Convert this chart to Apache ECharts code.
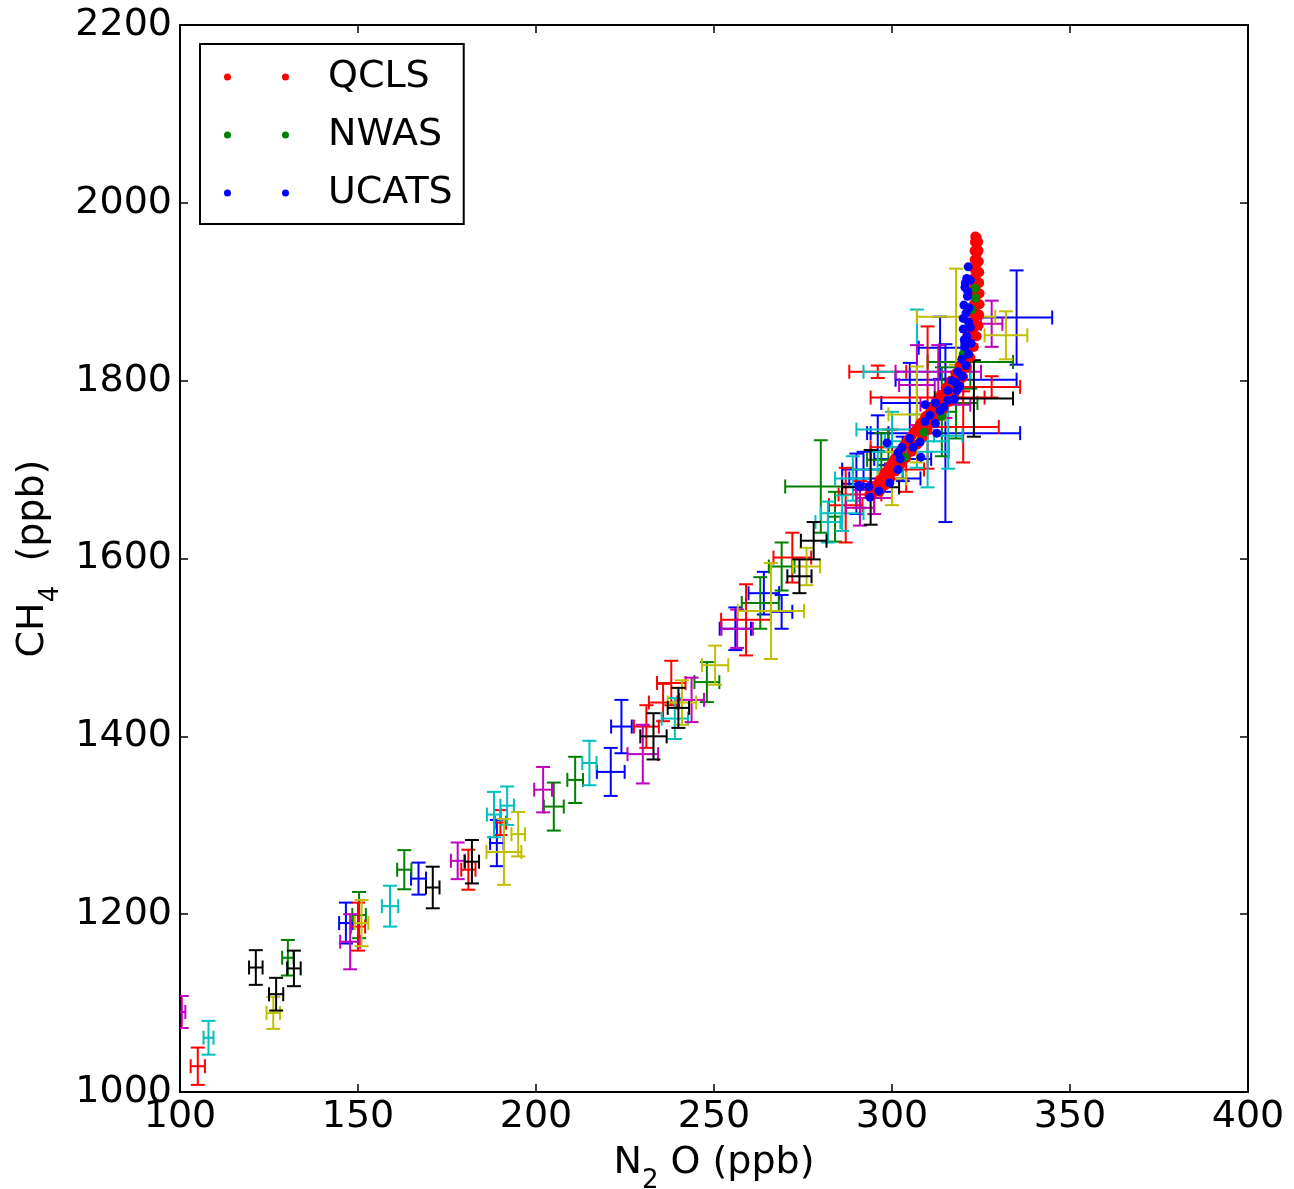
<!DOCTYPE html>
<html><head><meta charset="utf-8">
<script src="https://cdn.jsdelivr.net/npm/echarts@6/dist/echarts.min.js"></script>
<style>html,body{margin:0;padding:0;background:#fff}#c{width:1294px;height:1189px}</style>
</head><body><div id="c"></div>
<script>
// Axis ticks
const xTicks = [100, 150, 200, 250, 300, 350, 400];
const yTicks = [1000, 1200, 1400, 1600, 1800, 2000, 2200];

// Error-bar points: [N2O, CH4, N2O error, CH4 error], one list per colour
const errBlue = [[146.6,1190,1.9,23],[167,1240,2.1,18],[189,1280,1.9,26],[221,1360,3.9,27],[224,1411,2.9,30],
  [256,1521,4.4,24],[269,1540,3,19],[264,1561,4.3,24],[335,1871,10,53],[318,1801,17,20],[315,1741,21,100],
  [290,1684,4,34],[296,1741,3,20],[313.5,1837,6,35],[292,1700,6,20],[303,1712,8,25],[305,1775,8,45],[298,1690,10,15]];
const errGreen = [[130.3,1151,1.6,20],[150.3,1199,1.9,26],[163,1250,2,22],[205,1321,2.8,27],[211,1351,2.2,26],
  [248,1461,3.5,22.5],[263,1550,5.2,29],[269,1591,3.6,27],[284,1647,2,28],[280,1681,10,52],
  [322,1821,12,30],[314,1765,4,50],[297,1711,4,30],[299,1720,5,25],[318,1775,6,40]];
const errRed = [[105,1029,2,21],[150,1186,2,27],[181,1250,2,22.5],[190,1303,1.6,14],[231,1411,3.5,24],
  [235.7,1438,4,21],[238,1460,4,25],[259,1531,7,40],[272,1601,5.3,28],[287,1660,4.7,42],
  [296,1810,8,7],[310,1781,16,80],[320,1748,10,40],[328,1793,8,12],[291,1672,6,15],[304,1700,5,25],[300,1725,6,20]];
const errCyan = [[108,1061,1.4,19],[159,1209,2.3,23],[188.2,1312,2,25.5],[191.9,1322,1.9,21.6],[215,1370,2,25],
  [239,1420,3.7,23],[282,1641,3.5,23],[286,1651,6,20],[307,1810,15,70],[315.8,1738,4,37],[296,1700,7,20],[307,1732,9,30],
  [289,1690,5,25],[300,1745,10,20],[310,1720,6,40]];
const errMagenta = [[100.5,1090,1,18],[147.8,1169,2.8,31],[178,1260,1.9,20.6],[202,1340,2.5,25.5],[230,1380,4.3,33],
  [243.7,1441,3.5,25],[256.5,1521,4.4,21.6],[291,1657,4,20],[328,1864,3,26],[313,1810,12,30],[315,1773,7,15],[295,1668,5,18],
  [307,1795,5,45]];
const errYellow = [[126.2,1089,1.9,18],[151,1190,1.9,26],[191,1270,4.9,37],[195,1290,1.9,25],[241,1438,4,25],
  [250.3,1480,3.7,22],[266,1541,9.3,54],[276,1591,3.8,21],[318,1872,11,54],[332,1851,6,27],[307,1762,8,54],[300,1690,4,30]];
const errBlack = [[121.3,1140,1.9,19.5],[127,1110,2,18.4],[132,1139,1.9,20],[171,1230,1.9,23.4],[182,1259,2,24.4],
  [233,1400,3.7,26],[240,1432,3,22.5],[274,1580,3.4,19],[278,1620,3.6,21],[294,1680,8,42],[323,1780,11,43]];

// Aircraft in-situ points: [N2O, CH4]
const qcls = [[294.2,1670],[294.8,1674],[295.5,1678],[296.0,1683],[296.8,1687],[297.5,1692],[298.1,1696],[298.9,1700],
  [299.6,1704],[300.3,1709],[301.0,1713],[301.8,1717],[302.5,1721],[303.2,1726],[304.0,1730],[304.7,1734],[305.5,1738],
  [306.2,1742],[307.0,1746],[307.8,1750],[308.6,1754],[309.4,1758],[310.2,1762],[311.0,1766],[311.8,1770],[312.6,1774],
  [313.4,1778],[314.2,1782],[315.0,1786],[315.8,1790],[316.5,1795],[317.2,1799],[317.9,1803],[318.5,1808],[319.1,1812],
  [319.7,1817],[320.2,1822],[320.7,1827],[321.2,1832],[321.6,1837],[322.0,1842],[322.3,1848],[322.6,1853],[322.9,1859],
  [323.1,1865],[323.3,1871],[323.4,1877],[323.5,1883],[323.5,1889],[323.6,1895],[323.6,1901],[323.6,1907],[323.6,1913],
  [323.7,1919],[323.7,1925],[323.7,1931],[323.7,1937],[323.8,1943],[323.8,1949],[323.8,1955],[323.8,1961],
  [296.5,1675],[298,1682],[299.5,1690],[301,1698],[302.5,1706],[304,1713],[305.5,1720],[307,1728],[308.5,1736],
  [310,1744],[311.5,1752],[313,1760],[314.5,1768],[316,1776],[317.5,1785],[318.8,1794],[320,1804],[321,1815],[322,1826],
  [323,1838],[323.8,1850],[324.3,1862],[324.5,1874],[324.6,1886],[324.6,1898],[324.5,1910],[324.5,1922],[324.4,1934],
  [324.3,1946],[324.2,1956],
  [293.6,1672],[295,1680],[296.4,1688],[297.8,1696],[299.3,1704],[300.7,1712],[302.2,1720],[303.7,1728],[305.2,1736],
  [306.6,1744],[308,1752],[309.4,1760],[310.8,1768],[312.3,1776],[313.7,1784],[315.1,1792],[316.5,1800],[317.8,1808],
  [319,1817],[320,1826],[320.9,1836],[321.6,1846],[322.2,1856],[322.6,1866],[322.9,1876],[323,1886],[323.1,1896],
  [323.1,1906],[323.1,1916],[323.1,1926],[323.2,1936],[323.2,1946],[323.3,1956],[323.4,1962]];
const nwas = [[323.3,1904],[323.5,1893],[318.3,1795],[314,1760],[303.7,1714],[322.5,1880],[320,1830],[309,1742]];
const ucats = [[321.4,1928],[321.0,1915],[320.5,1905],[321.2,1895],[320.2,1885],[320.8,1876],[321.5,1866],[320.0,1858],
  [321.0,1850],[322.2,1842],[320.5,1838],[321.5,1830],[319.6,1824],[320.8,1817],[318.5,1810],[319.8,1805],[317.8,1798],
  [319.0,1794],[315.7,1789],[318.2,1789],[315.7,1778],[317.5,1779],[309.3,1773],[312.2,1775],[310.7,1761],[313.5,1766],
  [309.3,1754],[312.2,1752],[312.6,1741],[298.6,1730],[302.8,1725],[305.9,1725],[307.9,1731],[301.7,1719],[302.3,1712],
  [308.1,1714],[301.7,1700],[299.4,1685],[296.3,1676],[293.5,1680.5],[291.0,1680.5],[293.8,1669],[290.7,1682],[305,1735],
  [314.5,1770],[316.8,1800],[320.0,1870],[321.6,1882],[320.3,1846],[322.0,1860],[321.3,1900],[320.6,1910],[322,1913]];

const FONT = 'DejaVu Sans';
const chart = echarts.init(document.getElementById('c'));

function errSeries(data, color) {
  return {
    type: 'custom', data: data, clip: true, z: 2,
    encode: {x: 0, y: 1},
    renderItem: function (params, api) {
      const x = api.value(0), y = api.value(1), xe = api.value(2), ye = api.value(3);
      const c = api.coord([x, y]);
      const l = api.coord([x - xe, y]), r = api.coord([x + xe, y]);
      const t = api.coord([x, y + ye]), b = api.coord([x, y - ye]);
      const cap = 7;
      const st = {stroke: color, lineWidth: 2, fill: null};
      const ln = (x1, y1, x2, y2) => ({type: 'line', shape: {x1, y1, x2, y2}, style: st});
      return {type: 'group', children: [
        ln(l[0], c[1], r[0], c[1]),
        ln(c[0], t[1], c[0], b[1]),
        ln(l[0], c[1] - cap, l[0], c[1] + cap),
        ln(r[0], c[1] - cap, r[0], c[1] + cap),
        ln(c[0] - cap, t[1], c[0] + cap, t[1]),
        ln(c[0] - cap, b[1], c[0] + cap, b[1])
      ]};
    }
  };
}

const axisLine = {show: true, onZero: false, lineStyle: {color: '#000', width: 2}};
const axisTick = {show: true, inside: true, length: 8, lineStyle: {color: '#000', width: 1.5}};
const twoDots = 'path://M0,3.5A3.5,3.5 0 1,1 7,3.5A3.5,3.5 0 1,1 0,3.5Z M58,3.5A3.5,3.5 0 1,1 65,3.5A3.5,3.5 0 1,1 58,3.5Z';
const plain = v => String(v);

chart.setOption({
  animation: false,
  backgroundColor: '#fff',
  grid: {left: 180, right: 46, top: 25, bottom: 97, containLabel: false, outerBoundsMode: 'none'},
  legend: {
    orient: 'vertical', left: 200, top: 44,
    padding: [12, 11, 10, 24], itemGap: 16, itemWidth: 65, itemHeight: 7,
    borderColor: '#000', borderWidth: 2, backgroundColor: '#fff', borderRadius: 0,
    icon: twoDots,
    textStyle: {fontSize: 38, fontFamily: FONT, color: '#000', lineHeight: 42, padding: [0, 0, 0, 34]},
    data: ['QCLS', 'NWAS', 'UCATS']
  },
  xAxis: [
    {type: 'value', min: xTicks[0], max: xTicks[xTicks.length - 1], interval: xTicks[1] - xTicks[0], position: 'bottom',
     axisLine, axisTick, splitLine: {show: false},
     axisLabel: {fontSize: 38, fontFamily: FONT, color: '#000', margin: 6, formatter: plain},
     name: '{a|N}{s|2}{a| O (ppb)}', nameLocation: 'middle', nameGap: 46,
     nameTextStyle: {rich: {a: {fontSize: 38, fontFamily: FONT, color: '#000', verticalAlign: 'bottom', lineHeight: 44},
                             s: {fontSize: 26, fontFamily: FONT, color: '#000', verticalAlign: 'bottom', lineHeight: 44, padding: [0, 0, -12, 0]}}}},
    {type: 'value', min: xTicks[0], max: xTicks[xTicks.length - 1], interval: xTicks[1] - xTicks[0], position: 'top',
     axisLine, axisTick, axisLabel: {show: false}, splitLine: {show: false}}
  ],
  yAxis: [
    {type: 'value', min: yTicks[0], max: yTicks[yTicks.length - 1], interval: yTicks[1] - yTicks[0], position: 'left',
     axisLine, axisTick, splitLine: {show: false},
     axisLabel: {fontSize: 38, fontFamily: FONT, color: '#000', margin: 8, formatter: plain},
     name: '{a|CH}{s|4}{a|  (ppb)}', nameLocation: 'middle', nameGap: 110, nameRotate: 90,
     nameTextStyle: {rich: {a: {fontSize: 38, fontFamily: FONT, color: '#000', verticalAlign: 'bottom', lineHeight: 44},
                             s: {fontSize: 26, fontFamily: FONT, color: '#000', verticalAlign: 'bottom', lineHeight: 44, padding: [0, 0, -12, 0]}}}},
    {type: 'value', min: yTicks[0], max: yTicks[yTicks.length - 1], interval: yTicks[1] - yTicks[0], position: 'right',
     axisLine, axisTick, axisLabel: {show: false}, splitLine: {show: false}}
  ],
  series: [
    errSeries(errBlue, '#0000ff'),
    errSeries(errGreen, '#008000'),
    errSeries(errRed, '#ff0000'),
    errSeries(errCyan, '#00bfbf'),
    errSeries(errMagenta, '#bf00bf'),
    errSeries(errYellow, '#bfbf00'),
    errSeries(errBlack, '#000000'),
    {name: 'QCLS', type: 'scatter', data: qcls, symbolSize: 10, itemStyle: {color: '#ff0000', opacity: 1}, z: 3},
    {name: 'NWAS', type: 'scatter', data: nwas, symbolSize: 9, itemStyle: {color: '#008000', opacity: 1}, z: 3},
    {name: 'UCATS', type: 'scatter', data: ucats, symbolSize: 9, itemStyle: {color: '#0000ff', opacity: 1}, z: 3}
  ]
});
</script></body></html>
